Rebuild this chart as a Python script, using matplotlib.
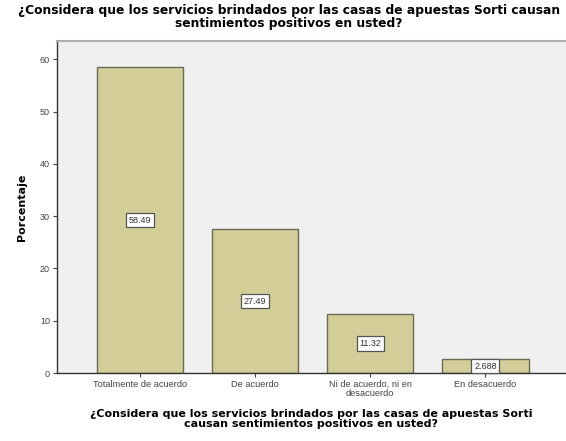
import matplotlib
matplotlib.use("Agg")
import matplotlib.pyplot as plt

categories = ["Totalmente de acuerdo", "De acuerdo", "Ni de acuerdo, ni en\ndesacuerdo", "En desacuerdo"]
values = [58.49, 27.49, 11.32, 2.688]
value_labels = ["58.49", "27.49", "11.32", "2.688"]
yticks = [0, 10, 20, 30, 40, 50, 60]
title = "¿Considera que los servicios brindados por las casas de apuestas Sorti causan\nsentimientos positivos en usted?"
xlabel = "¿Considera que los servicios brindados por las casas de apuestas Sorti\ncausan sentimientos positivos en usted?"
ylabel = "Porcentaje"

plt.rcParams['font.family'] = ['Liberation Sans', 'DejaVu Sans']

fig = plt.figure(figsize=(5.66, 4.41), dpi=100)
ax = fig.add_axes([0.1007, 0.154, 0.8993, 0.753])
ax.set_facecolor("#f0f0f0")

x = list(range(len(categories)))
ax.bar(x, values, width=0.75, color="#d3ce97", edgecolor="#6b6b55", linewidth=1.0, zorder=2)

for xi, v, lab in zip(x, values, value_labels):
    ax.text(xi, v / 2, lab, ha="center", va="center", fontsize=6.5, color="#333333", zorder=3,
            bbox=dict(boxstyle="square,pad=0.3", facecolor="white", edgecolor="#555555", linewidth=0.9))

ax.set_xlim(-0.72, 3.70)
ax.set_ylim(0, 63.5)
ax.set_yticks(yticks)
ax.set_yticklabels([str(t) for t in yticks], fontsize=6.5, color="#444444")
ax.set_xticks(x)
ax.set_xticklabels(categories, fontsize=6.7, color="#444444", linespacing=1.0)
ax.tick_params(axis="both", length=3, width=0.8, color="#444444", pad=2)

for s in ["left", "bottom"]:
    ax.spines[s].set_color("#333333")
    ax.spines[s].set_linewidth(1.0)
ax.spines["right"].set_visible(False)
ax.spines["top"].set_color("#b0b0b0")
ax.spines["top"].set_linewidth(1.5)

ax.set_ylabel(ylabel, fontsize=8, fontweight="bold", labelpad=9, family="DejaVu Sans")
ax.set_xlabel(xlabel, fontsize=8, fontweight="bold", labelpad=8, linespacing=1.0, family="DejaVu Sans")
fig.text(0.51, 0.99, title, ha="center", va="top", fontsize=8.8, fontweight="bold", linespacing=1.0,
         family="DejaVu Sans")

fig.savefig("out.png", dpi=100)
